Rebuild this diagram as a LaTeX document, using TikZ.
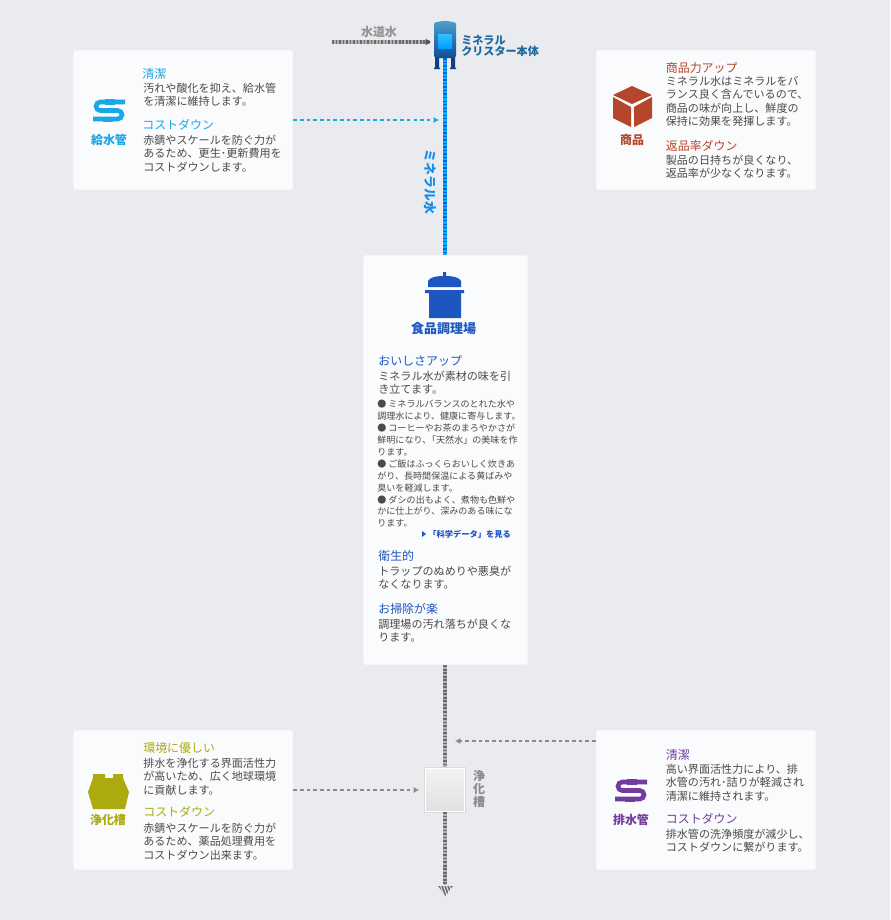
\documentclass[tikz,border=0pt]{standalone}
\usepackage{fontspec}
\setmainfont{Noto Sans CJK JP}
\usepackage{xcolor}
\usetikzlibrary{arrows.meta}
\definecolor{pagebg}{HTML}{E9EBEE}
\definecolor{cardbg}{HTML}{FAFBFD}
\definecolor{bodytext}{HTML}{4A4A4A}
\definecolor{supplyblue}{HTML}{1BA6E8}
\definecolor{goodsred}{HTML}{B5462B}
\definecolor{kitchenblue}{HTML}{1E56C0}
\definecolor{septicolive}{HTML}{ABAB10}
\definecolor{drainpurple}{HTML}{713C9E}
\definecolor{linegray}{HTML}{8A8A8A}
\definecolor{unittop}{HTML}{4A9CC9}
\definecolor{unitbottom}{HTML}{0F4C94}
\definecolor{unitleg}{HTML}{123F80}
\definecolor{unittext}{HTML}{1F689F}
\definecolor{waterlight}{HTML}{00B0FF}
\definecolor{waterdark}{HTML}{0A5FE0}
\tikzset{
  card/.style={fill=cardbg, draw=black!6, rounded corners=1.5pt, inner sep=0pt},
  head/.style={anchor=north west, inner sep=0pt, font=\fontsize{6.8}{7.6}\selectfont},
  body/.style={anchor=north west, inner sep=0pt, text=bodytext, align=left, yshift=-0.5pt,
    font=\fontsize{6.3}{7.6}\selectfont},
  small/.style={anchor=north west, inner sep=0pt, text=bodytext, align=left,
    font=\fontsize{5.15}{6.8}\selectfont},
  label/.style={inner sep=0pt, font=\fontsize{6.8}{7.6}\selectfont\bfseries},
  cleanpipe/.style={line width=2.3pt, draw=waterlight, postaction={draw=waterdark, dash pattern=on .8pt off 1.2pt}},
  greypipe/.style={line width=2.3pt, draw=black!30, postaction={draw=black!58, dash pattern=on 1pt off 1pt}},
  flowline/.style={line width=.6pt, dash pattern=on 2pt off 1.8pt, -{Latex[length=3pt,width=3.5pt]}},
}
\newcommand{\pipeicon}[3]{%
  \begin{scope}[shift={(#1,#2)}, #3]
    \draw[line width=2.6pt, rounded corners=2.4pt] (16,-8) -- (-13,-8) -- (-13,0.5) -- (13,0.5) -- (13,9) -- (-16,9);
    \fill (-4,-11) rectangle (6,-5.5);
    \fill (-6,6.5) rectangle (4,12);
  \end{scope}}
\begin{document}
\begin{tikzpicture}[x=0.02cm, y=-0.02cm]
\useasboundingbox[fill=pagebg] (0,0) rectangle (890,920);

% Cards
\node[card, minimum width=4.4cm, minimum height=2.8cm] (supply) at (183,120) {};
\node[card, minimum width=4.4cm, minimum height=2.8cm] (goods) at (706,120) {};
\node[card, minimum width=3.3cm, minimum height=8.2cm] (kitchen) at (445.5,460) {};
\node[card, minimum width=4.4cm, minimum height=2.8cm] (septic) at (183,800) {};
\node[card, minimum width=4.4cm, minimum height=2.8cm] (drain) at (706,800) {};

% Crystal unit and tank
\node[minimum width=0.44cm, minimum height=0.72cm, inner sep=0pt] (unit) at (445,40) {};
\coordinate (outlet) at (445,885);
\coordinate (tapin) at (430,42);
\coordinate (tapstart) at (332,42);
\coordinate (supplyin) at (439,120);
\coordinate (septicin) at (419,790);
\coordinate (drainin) at (455,741);

% Pipes
\draw[cleanpipe] (unit.south) -- (kitchen.north -| unit.south);
\draw[greypipe] (kitchen.south -| outlet) -- (445,790);
\node[minimum width=0.78cm, minimum height=0.86cm, inner sep=0pt, draw=white, line width=.6pt,
  preaction={draw=black!14, line width=1.8pt}, top color=black!5, bottom color=black!12] (tank) at (445,790) {};
\draw[greypipe] (tank.south) -- (outlet);
\draw[greypipe, line width=1.8pt] (tapstart) -- (tapin);
\draw[linegray!60!black, line width=.6pt, -{Latex[length=3pt,width=4pt]}] (428,42) -- (431,42);
\draw[flowline, supplyblue] (supply.east) -- (supplyin);
\draw[flowline, linegray] (septic.east |- septicin) -- (septicin);
\draw[flowline, linegray] (drain.west |- drainin) -- (drainin);
\fill[black!55] (438,886) -- (453,886) -- (445.5,896) -- cycle;
\foreach \i in {440,443,446,449} \draw[pagebg, line width=.5pt] (\i,884) -- (\i+4,896);

% Unit drawing
\fill[unitleg] (435,56) rectangle (439,68) (451,56) rectangle (455,68);
\fill[unitleg] (434,67.5) rectangle (440,69) (450,67.5) rectangle (456,69);
\shade[top color=unittop, bottom color=unitbottom, rounded corners=1.5pt] (434,22) rectangle (456,58);
\fill[unittop] (434,24) .. controls (438,20) and (452,20) .. (456,24) -- cycle;
\shade[top color=waterlight!80!white, bottom color=waterlight!90!blue] (438,34) rectangle (452,48);

% Icons
\pipeicon{109}{110}{supplyblue}
\pipeicon{631}{790}{drainpurple}
\fill[goodsred] (632,86) -- (652,95) -- (632,104) -- (613,95) -- cycle;
\fill[goodsred] (613,97) -- (631,107) -- (631,127) -- (613,118) -- cycle;
\fill[goodsred] (634,107) -- (652,97) -- (652,118) -- (634,127) -- cycle;
\fill[kitchenblue] (428,287) -- (428,281) .. controls (430,277) and (437,276) .. (443,276) -- (443,272) -- (446,272) -- (446,276) .. controls (452,276) and (459,277) .. (461,281) -- (461,287) -- cycle;
\fill[kitchenblue] (425,290) rectangle (464,293) (429,293) rectangle (461,318);
\fill[septicolive] (93,774) -- (105,774) -- (105,778) -- (113,778) -- (113,774) -- (123,774) -- (123,778) -- (129,792) -- (125,809) -- (93,809) -- (88,792) -- (93,778) -- cycle;

% Top labels
\node[label, text=black!42] (taplabel) at (379,32) {水道水};
\node[anchor=north west, inner sep=0pt, align=left, text=unittext,
  font=\fontsize{6.3}{6.3}\selectfont\bfseries] (unitlabel) at (461,35) {ミネラル\\クリスター本体};
\node[label, text=supplyblue!85!blue, rotate=-90, font=\fontsize{7.3}{8}\selectfont\bfseries] (waterlabel) at (430,182) {ミネラル水};
\node[label, text=linegray, align=center, font=\fontsize{6.8}{7.6}\selectfont\bfseries] (tanklabel) at (479,789) {浄\\化\\槽};

% Supply pipe card
\node[label, text=supplyblue] (supplyname) at (109,140) {給水管};
\node[head, text=supplyblue] (supplyA) at (142,68) {清潔};
\node[body] (supplyAtext) at (143,82) {汚れや酸化を抑え、給水管\\を清潔に維持します。};
\node[head, text=supplyblue] (supplyB) at (142,119) {コストダウン};
\node[body] (supplyBtext) at (143,134) {赤錆やスケールを防ぐ力が\\あるため、更生･更新費用を\\コストダウンします。};

% Goods card
\node[label, text=goodsred] (goodsname) at (632,140) {商品};
\node[head, text=goodsred] (goodsA) at (665.5,62) {商品力アップ};
\node[body] (goodsAtext) at (665.5,75) {ミネラル水はミネラルをバ\\ランス良く含んでいるので、\\商品の味が向上し、鮮度の\\保持に効果を発揮します。};
\node[head, text=goodsred] (goodsB) at (665.5,140) {返品率ダウン};
\node[body] (goodsBtext) at (665.5,154) {製品の日持ちが良くなり、\\返品率が少なくなります。};

% Kitchen card
\node[label, text=kitchenblue, font=\fontsize{7.4}{8}\selectfont\bfseries] (kitchenname) at (443.5,329) {食品調理場};
\node[head, text=kitchenblue] (kitchenA) at (378,355) {おいしさアップ};
\node[body] (kitchenAtext) at (378,370) {ミネラル水が素材の味を引\\き立てます。};
\node[small] (kitchenlist) at (377,399.5) {● ミネラルバランスのとれた水や\\調理水により、健康に寄与します。\\● コーヒーやお茶のまろやかさが\\鮮明になり､「天然水」の美味を作\\ります。\\● ご飯はふっくらおいしく炊きあ\\がり、長時間保温による黄ばみや\\臭いを軽減します。\\● ダシの出もよく、煮物も色鮮や\\かに仕上がり、深みのある味にな\\ります。};
\fill[kitchenblue] (422,531) -- (426,534) -- (422,537) -- cycle;
\node[anchor=west, inner sep=0pt, text=kitchenblue, font=\fontsize{4.7}{6}\selectfont\bfseries] (kitchenlink) at (428,534) {「科学データ」を見る};
\node[head, text=kitchenblue] (kitchenB) at (378,550) {衛生的};
\node[body] (kitchenBtext) at (378,565) {トラップのぬめりや悪臭が\\なくなります。};
\node[head, text=kitchenblue] (kitchenC) at (378,603) {お掃除が楽};
\node[body] (kitchenCtext) at (378,618) {調理場の汚れ落ちが良くな\\ります。};

% Septic card
\node[label, text=septicolive] (septicname) at (108,820) {浄化槽};
\node[head, text=septicolive] (septicA) at (143,742) {環境に優しい};
\node[body] (septicAtext) at (143,757) {排水を浄化する界面活性力\\が高いため、広く地球環境\\に貢献します。};
\node[head, text=septicolive] (septicB) at (143,806) {コストダウン};
\node[body] (septicBtext) at (143,822) {赤錆やスケールを防ぐ力が\\あるため、薬品処理費用を\\コストダウン出来ます。};

% Drain pipe card
\node[label, text=drainpurple] (drainname) at (631,820) {排水管};
\node[head, text=drainpurple] (drainA) at (665.5,749) {清潔};
\node[body] (drainAtext) at (665.5,763) {高い界面活性力により、排\\水管の汚れ･詰りが軽減され\\清潔に維持されます。};
\node[head, text=drainpurple] (drainB) at (665.5,813) {コストダウン};
\node[body] (drainBtext) at (665.5,828) {排水管の洗浄頻度が減少し、\\コストダウンに繋がります。};
\end{tikzpicture}
\end{document}
